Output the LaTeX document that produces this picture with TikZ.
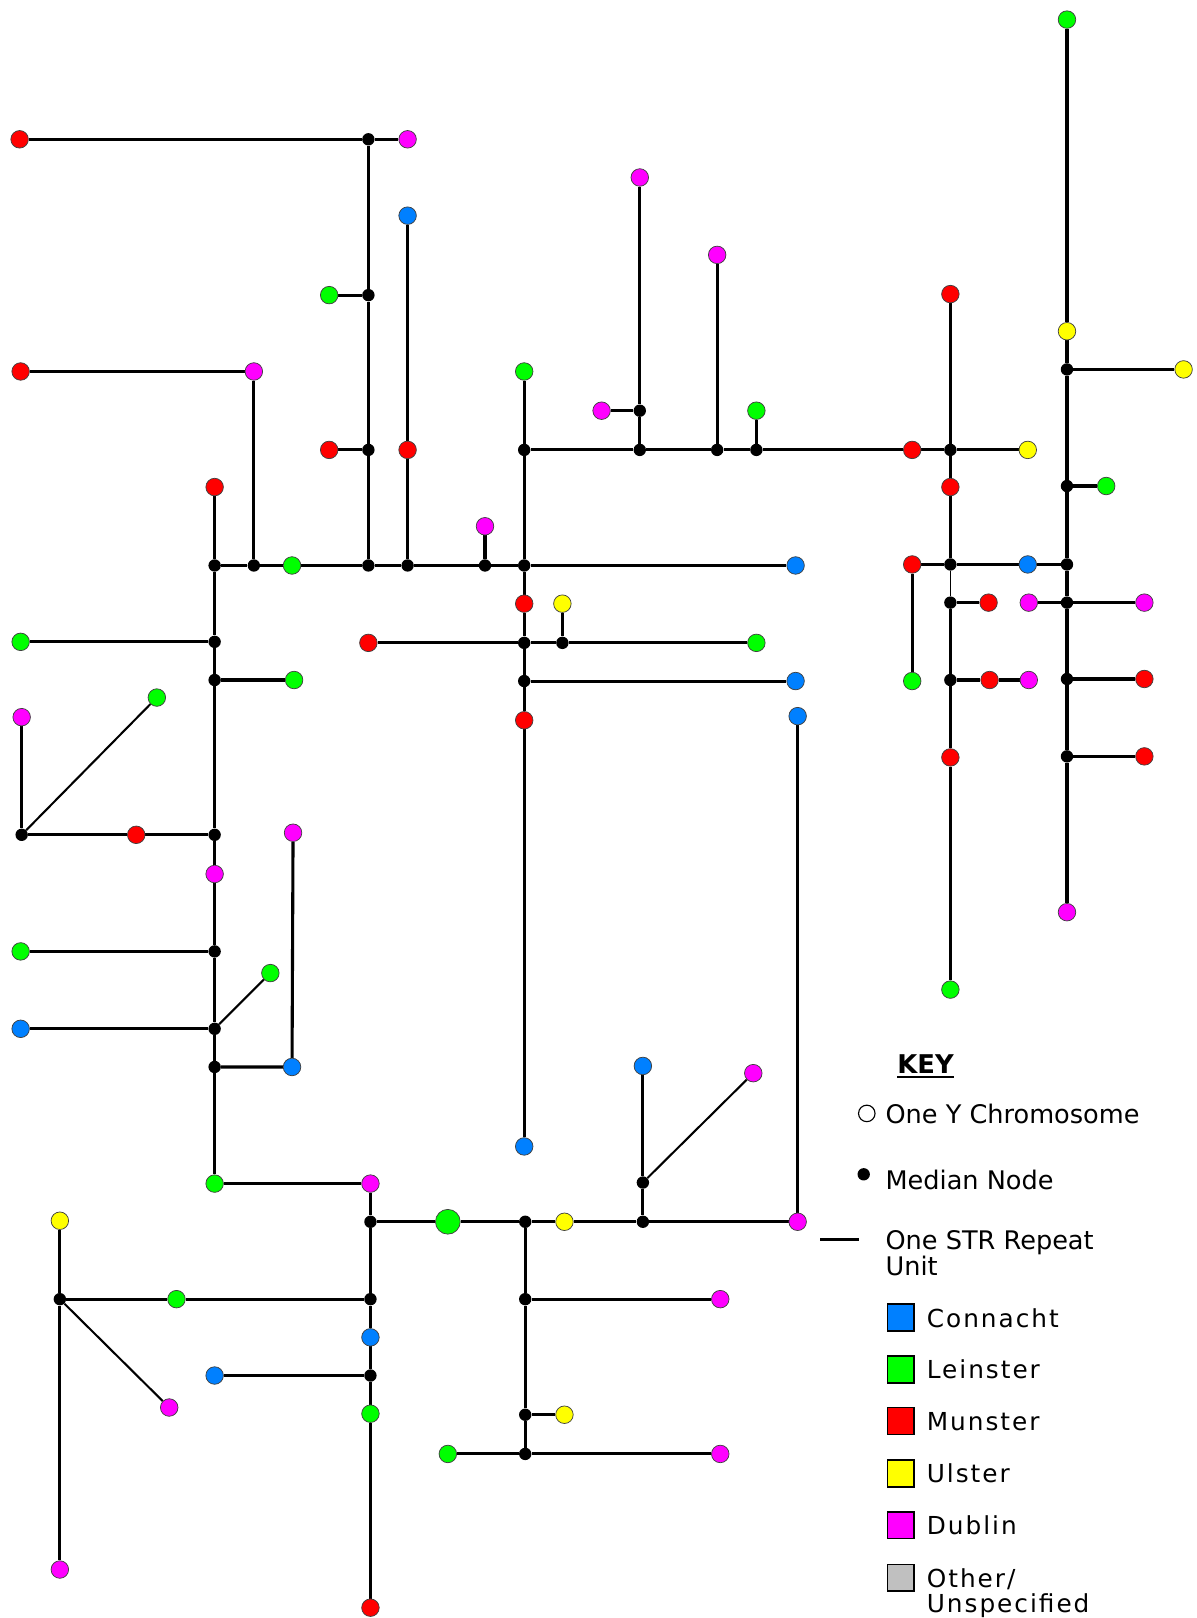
\documentclass[tikz,border=0pt]{standalone}
\usepackage{fontspec}
\setmainfont{DejaVu Sans}
\newfontfamily\lsp[LetterSpace=8]{DejaVu Sans}
\usetikzlibrary{backgrounds}
\definecolor{cb}{RGB}{0,128,255}
\definecolor{cg}{RGB}{0,255,0}
\definecolor{cr}{RGB}{255,0,0}
\definecolor{cy}{RGB}{255,255,0}
\definecolor{cm}{RGB}{255,0,255}
\definecolor{cgr}{RGB}{192,192,192}
\begin{document}
\begin{tikzpicture}[x=1pt,y=-1pt,
  pt/.style={circle,draw=black!75,line width=0.7pt,minimum size=17pt,inner sep=0pt},
  bigpt/.style={pt,minimum size=24pt},
  md/.style={circle,fill=black,minimum size=12pt,inner sep=0pt},
  e/.style={line width=3pt},
  ed/.style={line width=2pt},
  et/.style={line width=1.3pt},
  sq/.style={draw=black,line width=1.6pt,minimum size=26pt,inner sep=0pt},
  lab/.style={anchor=base west,inner sep=0pt,font=\fontsize{24}{25}\selectfont\lsp},
  lab2/.style={anchor=base west,inner sep=0pt,font=\fontsize{24.8}{25}\selectfont}]
\useasboundingbox (0,0) rectangle (1160,1568);
% ---------- nodes ----------
\node[pt,fill=cr] (r1) at (19,135) {};
\node[md] (m1) at (357,135) {};
\node[pt,fill=cm] (p1) at (395,135) {};
\node[md] (m2) at (357,286) {};
\node[pt,fill=cg] (g1) at (319,286) {};
\node[md] (m3) at (357,436) {};
\node[pt,fill=cr] (r2) at (319,436) {};
\node[md] (m4) at (357,548) {};
\node[pt,fill=cb] (b1) at (395,209) {};
\node[pt,fill=cr] (r3) at (395,436) {};
\node[md] (m5) at (395,548) {};
\node[pt,fill=cr] (r4) at (20,360) {};
\node[pt,fill=cm] (p2) at (246,360) {};
\node[md] (m6) at (246,548) {};
\node[pt,fill=cr] (r5) at (208,472) {};
\node[md] (m7) at (208,548) {};
\node[pt,fill=cg] (g2) at (283,548) {};
\node[pt,fill=cm] (p3) at (470,510) {};
\node[md] (m8) at (470,548) {};
\node[md] (m9) at (508,548) {};
\node[pt,fill=cb] (b2) at (771,548) {};
\node[pt,fill=cg] (g3) at (508,360) {};
\node[md] (m10) at (508,436) {};
\node[pt,fill=cr] (r6) at (508,585) {};
\node[md] (m11) at (508,623) {};
\node[md] (m12) at (508,660) {};
\node[pt,fill=cr] (r7) at (508,698) {};
\node[pt,fill=cb] (b3) at (508,1111) {};
\node[md] (m13) at (620,436) {};
\node[md] (m14) at (695,436) {};
\node[md] (m15) at (733,436) {};
\node[pt,fill=cr] (r8) at (884,436) {};
\node[md] (m16) at (921,436) {};
\node[pt,fill=cy] (y1) at (996,436) {};
\node[pt,fill=cm] (p4) at (620,172) {};
\node[md] (m17) at (620,398) {};
\node[pt,fill=cm] (p5) at (583,398) {};
\node[pt,fill=cm] (p6) at (695,247) {};
\node[pt,fill=cg] (g4) at (733,398) {};
\node[pt,fill=cr] (r9) at (921,285) {};
\node[pt,fill=cr] (r10) at (921,472) {};
\node[md] (m18) at (921,547) {};
\node[md] (m19) at (921,584) {};
\node[pt,fill=cr] (r11) at (958,584) {};
\node[md] (m20) at (921,659) {};
\node[pt,fill=cr] (r12) at (959,659) {};
\node[pt,fill=cm] (p7) at (997,659) {};
\node[pt,fill=cr] (r13) at (921,734) {};
\node[pt,fill=cg] (g5) at (921,959) {};
\node[pt,fill=cr] (r14) at (884,547) {};
\node[pt,fill=cb] (b4) at (996,547) {};
\node[md] (m21) at (1034,547) {};
\node[pt,fill=cg] (g6) at (884,660) {};
\node[pt,fill=cg] (g7) at (1034,19) {};
\node[pt,fill=cy] (y2) at (1034,321) {};
\node[md] (m22) at (1034,358) {};
\node[pt,fill=cy] (y3) at (1147,358) {};
\node[md] (m23) at (1034,471) {};
\node[pt,fill=cg] (g8) at (1072,471) {};
\node[md] (m24) at (1034,584) {};
\node[pt,fill=cm] (p8) at (997,584) {};
\node[pt,fill=cm] (p9) at (1109,584) {};
\node[md] (m25) at (1034,658) {};
\node[pt,fill=cr] (r15) at (1109,658) {};
\node[md] (m26) at (1034,733) {};
\node[pt,fill=cr] (r16) at (1109,733) {};
\node[pt,fill=cm] (p10) at (1034,884) {};
\node[pt,fill=cr] (r17) at (357,623) {};
\node[md] (m27) at (545,623) {};
\node[pt,fill=cg] (g9) at (733,623) {};
\node[pt,fill=cy] (y4) at (545,585) {};
\node[pt,fill=cb] (b5) at (771,660) {};
\node[md] (m28) at (208,622) {};
\node[md] (m29) at (208,659) {};
\node[md] (m30) at (208,809) {};
\node[pt,fill=cm] (p11) at (208,847) {};
\node[md] (m31) at (208,922) {};
\node[md] (m32) at (208,997) {};
\node[md] (m33) at (208,1034) {};
\node[pt,fill=cg] (g10) at (208,1147) {};
\node[pt,fill=cg] (g11) at (20,622) {};
\node[pt,fill=cg] (g12) at (285,659) {};
\node[pt,fill=cr] (r18) at (132,809) {};
\node[md] (m34) at (21,809) {};
\node[pt,fill=cm] (p12) at (21,695) {};
\node[pt,fill=cg] (g13) at (152,676) {};
\node[pt,fill=cg] (g14) at (20,922) {};
\node[pt,fill=cb] (b6) at (20,997) {};
\node[pt,fill=cg] (g15) at (262,943) {};
\node[pt,fill=cb] (b7) at (283,1034) {};
\node[pt,fill=cm] (p13) at (284,807) {};
\node[pt,fill=cm] (p14) at (359,1147) {};
\node[md] (m35) at (359,1184) {};
\node[md] (m36) at (359,1259) {};
\node[pt,fill=cb] (b8) at (359,1296) {};
\node[md] (m37) at (359,1333) {};
\node[pt,fill=cg] (g16) at (359,1370) {};
\node[pt,fill=cr] (r19) at (359,1558) {};
\node[bigpt,fill=cg] (G) at (434,1184) {};
\node[md] (m38) at (509,1184) {};
\node[pt,fill=cy] (y5) at (547,1184) {};
\node[md] (m39) at (623,1184) {};
\node[pt,fill=cm] (p15) at (773,1184) {};
\node[pt,fill=cb] (b9) at (773,694) {};
\node[md] (m40) at (623,1146) {};
\node[pt,fill=cb] (b10) at (623,1033) {};
\node[pt,fill=cm] (p16) at (730,1040) {};
\node[md] (m41) at (509,1259) {};
\node[md] (m42) at (509,1371) {};
\node[md] (m43) at (509,1409) {};
\node[pt,fill=cm] (p17) at (698,1259) {};
\node[pt,fill=cy] (y6) at (547,1371) {};
\node[pt,fill=cg] (g17) at (434,1409) {};
\node[pt,fill=cm] (p18) at (698,1409) {};
\node[pt,fill=cy] (y7) at (58,1183) {};
\node[md] (m44) at (58,1259) {};
\node[pt,fill=cm] (p19) at (58,1521) {};
\node[pt,fill=cg] (g18) at (171,1259) {};
\node[pt,fill=cm] (p20) at (164,1364) {};
\node[pt,fill=cb] (b11) at (208,1333) {};
% ---------- edges ----------
\begin{pgfonlayer}{background}
\draw[e] (r1) -- (m1) -- (p1);
\draw[e] (m1) -- (m2) -- (m3) -- (m4);
\draw[e] (m2) -- (g1);
\draw[e] (m3) -- (r2);
\draw[e] (b1) -- (r3) -- (m5);
\draw[e] (r4) -- (p2) -- (m6);
\draw[e] (r5) -- (m7);
\draw[e] (m7) -- (m6) -- (g2) -- (m4) -- (m5) -- (m8) -- (m9) -- (b2);
\draw[e] (m8) -- (p3);
\draw[e] (g3) -- (m10) -- (m9);
\draw[e] (m9) -- (r6) -- (m11) -- (m12) -- (r7) -- (b3);
\draw[e] (m10) -- (m13) -- (m14) -- (m15) -- (r8) -- (m16) -- (y1);
\draw[e] (m13) -- (m17) -- (p4);
\draw[e] (m17) -- (p5);
\draw[e] (m14) -- (p6);
\draw[e] (m15) -- (g4);
\draw[e] (r9) -- (m16) -- (r10) -- (m18);
\draw[et] (m18) -- (m19);
\draw[e] (m19) -- (m20) -- (r13) -- (g5);
\draw[e] (r14) -- (m18) -- (b4) -- (m21);
\draw[e] (r14) -- (g6);
\draw[e] (m19) -- (r11);
\draw[e] (m20) -- (r12) -- (p7);
\draw[e] (g7) -- (y2) -- (m22) -- (m23) -- (m21) -- (m24) -- (m25) -- (m26) -- (p10);
\draw[e] (m22) -- (y3);
\draw[e] (m23) -- (g8);
\draw[e] (p8) -- (m24) -- (p9);
\draw[e] (m25) -- (r15);
\draw[e] (m26) -- (r16);
\draw[e] (r17) -- (m11) -- (m27) -- (g9);
\draw[e] (m27) -- (y4);
\draw[e] (m12) -- (b5);
\draw[e] (m7) -- (m28) -- (m29) -- (m30) -- (p11) -- (m31) -- (m32) -- (m33) -- (g10);
\draw[e] (m28) -- (g11);
\draw[e] (m29) -- (g12);
\draw[e] (m30) -- (r18) -- (m34) -- (p12);
\draw[ed] (m34) -- (g13);
\draw[e] (m31) -- (g14);
\draw[e] (m32) -- (b6);
\draw[ed] (m32) -- (g15);
\draw[e] (m33) -- (b7) -- (p13);
\draw[e] (g10) -- (p14) -- (m35) -- (m36) -- (b8) -- (m37) -- (g16) -- (r19);
\draw[e] (m35) -- (G) -- (m38) -- (y5) -- (m39) -- (p15) -- (b9);
\draw[e] (m39) -- (m40) -- (b10);
\draw[ed] (m40) -- (p16);
\draw[e] (m38) -- (m41) -- (m42) -- (m43);
\draw[e] (m41) -- (p17);
\draw[e] (m42) -- (y6);
\draw[e] (g17) -- (m43) -- (p18);
\draw[e] (y7) -- (m44) -- (p19);
\draw[e] (m44) -- (g18) -- (m36);
\draw[ed] (m44) -- (p20);
\draw[e] (b11) -- (m37);
\end{pgfonlayer}
% ---------- key ----------
\node[anchor=base,inner sep=0pt,font=\fontsize{25}{26}\selectfont\bfseries] (key) at (897,1040) {KEY};
\draw[line width=2.2pt] ([yshift=-4pt]key.base west) -- ([yshift=-4pt]key.base east);
\node[circle,draw=black,line width=1.1pt,minimum size=16pt,inner sep=0pt] (kc) at (840,1079) {};
\node[lab2] (kct) at (858,1089) {One Y Chromosome};
\node[md] (kd) at (837,1138) {};
\node[lab2] (kdt) at (858,1153) {Median Node};
\coordinate (kl1) at (795,1201);
\coordinate (kl2) at (832,1201);
\draw[e] (kl1) -- (kl2);
\node[lab2,align=left] (klt) at (858,1236) {One STR Repeat\\Unit};
\node[sq,fill=cb] (s1) at (873,1277) {};
\node[lab] (t1) at (898,1286) {Connacht};
\node[sq,fill=cg] (s2) at (873,1327) {};
\node[lab] (t2) at (898,1336) {Leinster};
\node[sq,fill=cr] (s3) at (873,1377) {};
\node[lab] (t3) at (898,1386) {Munster};
\node[sq,fill=cy] (s4) at (873,1428) {};
\node[lab] (t4) at (898,1437) {Ulster};
\node[sq,fill=cm] (s5) at (873,1478) {};
\node[lab] (t5) at (898,1487) {Dublin};
\node[sq,fill=cgr] (s6) at (873,1529) {};
\node[lab,align=left] (t6) at (898,1563) {Other/\\Unspecified};
\end{tikzpicture}
\end{document}
